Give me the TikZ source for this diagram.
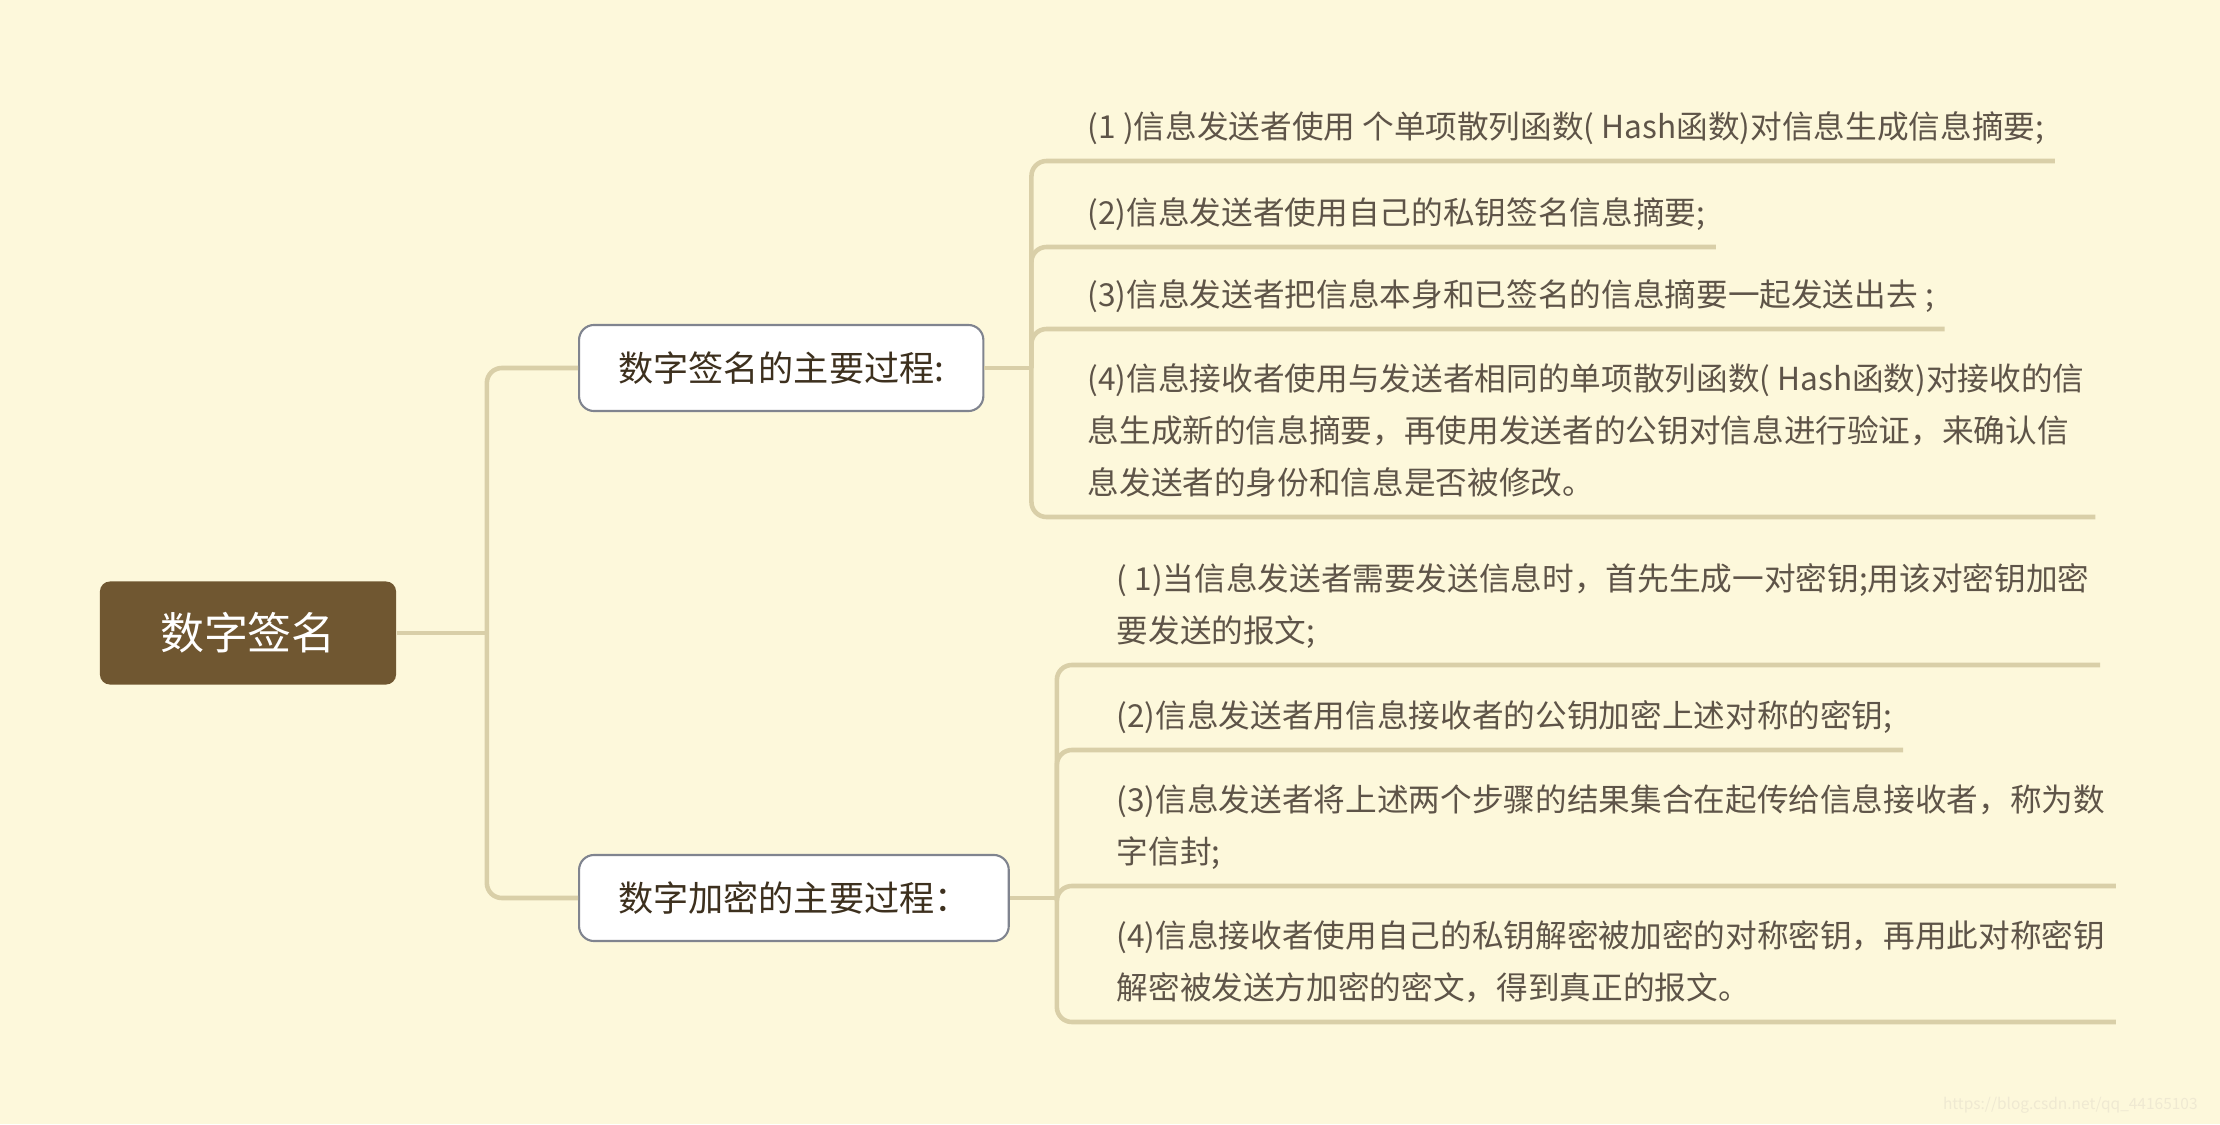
\documentclass[tikz,border=0pt]{standalone}
\usepackage{fontspec}
\newfontfamily\cjk{Noto Sans CJK SC}
\usepackage{tikz}
\usetikzlibrary{positioning, calc}
\definecolor{fond}{HTML}{FDF8DB}
\definecolor{trait}{HTML}{D9CFA8}
\definecolor{racine}{HTML}{705731}
\definecolor{bord}{HTML}{80848F}
\definecolor{titre}{HTML}{3D301E}
\definecolor{texte}{HTML}{5E5448}
\definecolor{filigrane}{HTML}{EFE9D2}

\begin{document}
\begin{tikzpicture}[x=0.01cm, y=-0.01cm,
  lien/.style={draw=trait, line width=1.3pt, rounded corners=0.15cm},
  proc/.style={draw=bord, line width=0.6pt, fill=white, rounded corners=0.15cm, inner xsep=0.39cm, minimum height=0.86cm, text=titre, font=\cjk\fontsize{10pt}{12pt}\selectfont},
  etape/.style={anchor=south west, align=left, inner xsep=0pt, inner ysep=0.22cm, text depth=0pt, text=texte, font=\cjk\fontsize{9pt}{14.8pt}\selectfont}]
\fill[fond] (0,0) rectangle (2220,1124);

\node[fill=racine, rounded corners=0.1cm, minimum width=2.96cm, minimum height=1.03cm, text=white, font=\cjk\fontsize{12.5pt}{15pt}\selectfont] (Rac) at (248,633) {数字签名};
\node[proc, anchor=west] (Br1) at (578,368) {数字签名的主要过程:};
\node[proc, anchor=west] (Br2) at (578,898) {数字加密的主要过程：};
\coordinate[right=0.9cm of Rac.east] (J0);
\coordinate[right=0.47cm of Br1.east] (J1);
\coordinate[right=0.47cm of Br2.east] (J2);

% signature
\node[etape] (S1) at (1087,161) {(1 )信息发送者使用 个单项散列函数( Hash函数)对信息生成信息摘要;};
\node[etape] (S2) at (1087,247) {(2)信息发送者使用自己的私钥签名信息摘要;};
\node[etape] (S3) at (1087,329) {(3)信息发送者把信息本身和已签名的信息摘要一起发送出去 ;};
\node[etape] (S4) at (1087,517) {(4)信息接收者使用与发送者相同的单项散列函数( Hash函数)对接收的信\\息生成新的信息摘要，再使用发送者的公钥对信息进行验证，来确认信\\息发送者的身份和信息是否被修改。};

% chiffrement
\node[etape] (C1) at (1116,665) {( 1)当信息发送者需要发送信息时，首先生成一对密钥;用该对密钥加密\\要发送的报文;};
\node[etape] (C2) at (1116,750) {(2)信息发送者用信息接收者的公钥加密上述对称的密钥;};
\node[etape] (C3) at (1116,886) {(3)信息发送者将上述两个步骤的结果集合在起传给信息接收者，称为数\\字信封;};
\node[etape] (C4) at (1116,1022) {(4)信息接收者使用自己的私钥解密被加密的对称密钥，再用此对称密钥\\解密被发送方加密的密文，得到真正的报文。};

\draw[lien] (Rac.east) -- (J0);
\draw[lien] (J0) |- (Br1.west);
\draw[lien] (J0) |- (Br2.west);
\draw[lien] (Br1.east) -- (J1);
\draw[lien] (Br2.east) -- (J2);
\foreach \s in {S1,S2,S3,S4}
  \draw[lien] (J1) |- ([xshift=0.1cm]\s.south east);
\foreach \c in {C1,C2,C3,C4}
  \draw[lien] (J2) |- ([xshift=0.1cm]\c.south east);

\node[anchor=east, text=filigrane, font=\cjk\fontsize{4.4pt}{5pt}\selectfont] (Fil) at (2210,1105) {https://blog.csdn.net/qq\_44165103};
\end{tikzpicture}
\end{document}
